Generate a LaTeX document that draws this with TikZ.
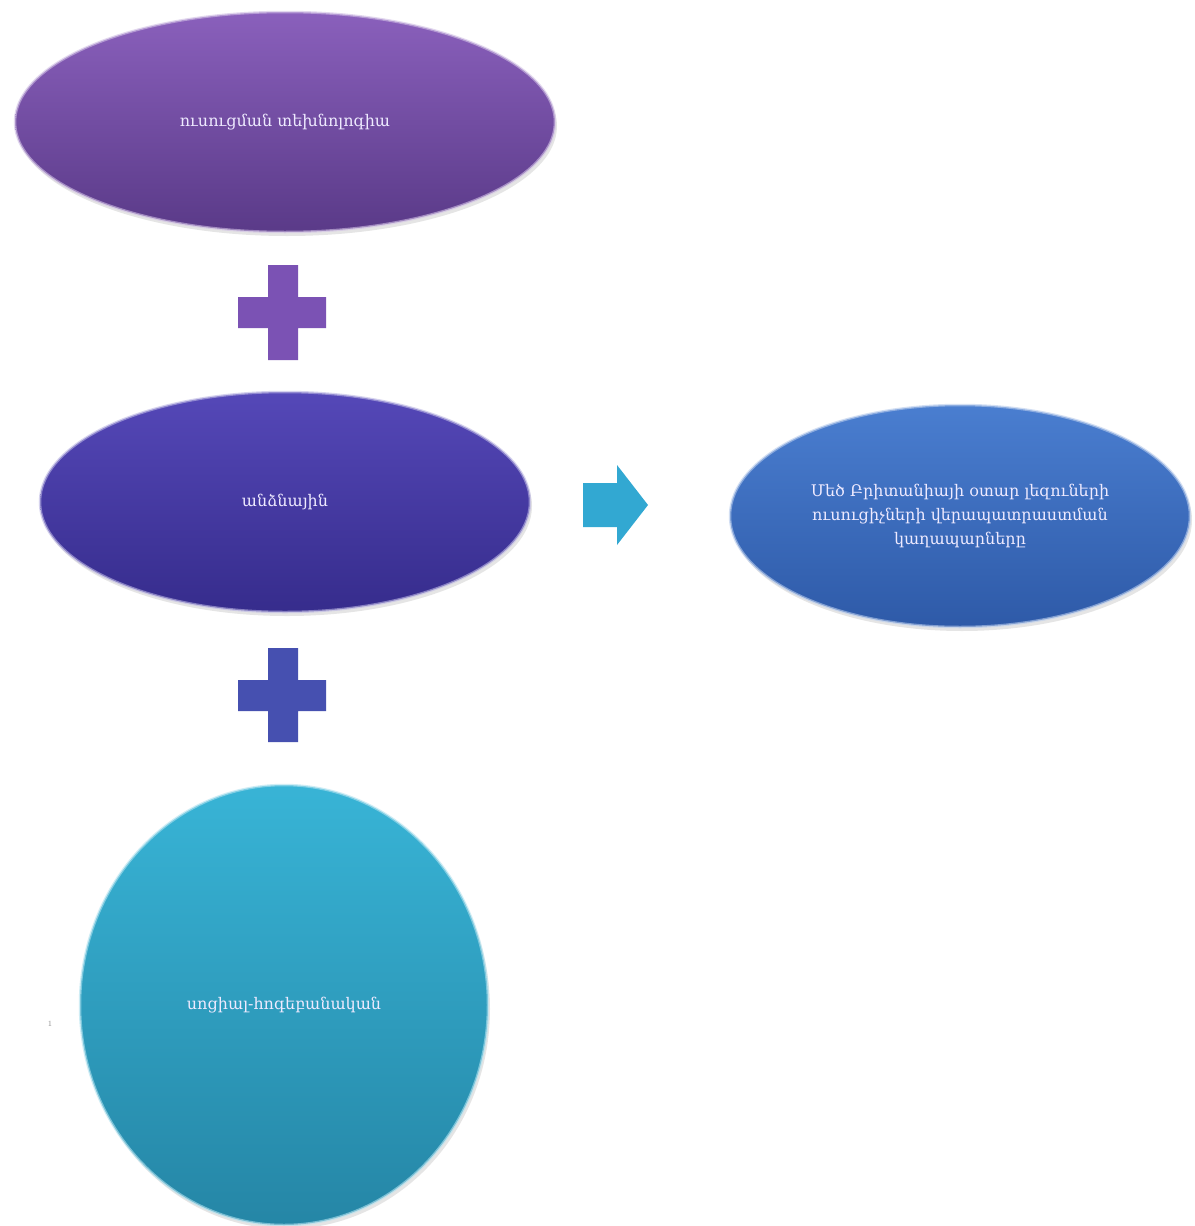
\documentclass[tikz,border=0pt]{standalone}
\usepackage{fontspec}
\newfontfamily\armfont{DejaVu Serif}
\usetikzlibrary{shapes.geometric,shadows}
\definecolor{purpT}{HTML}{8A60BC}
\definecolor{purpB}{HTML}{5A3A88}
\definecolor{violT}{HTML}{5548B8}
\definecolor{violB}{HTML}{362C8C}
\definecolor{cyanT}{HTML}{38B4D6}
\definecolor{cyanB}{HTML}{2586A6}
\definecolor{blueT}{HTML}{4A7ED0}
\definecolor{blueB}{HTML}{2E5AA8}
\definecolor{txt}{HTML}{EEEAFF}
\definecolor{plusP}{HTML}{7B52B4}
\definecolor{plusB}{HTML}{4650B0}
\definecolor{arrC}{HTML}{32A8D2}
\tikzset{
  blob/.style={ellipse, inner sep=0pt, text=txt, align=center,
    font=\armfont\fontsize{16}{24}\selectfont,
    drop shadow={shadow xshift=2pt, shadow yshift=-4pt, opacity=0.2}},
  rim/.style={line width=2.5pt, draw opacity=0.6}
}
\begin{document}
\begin{tikzpicture}[x=1pt,y=1pt]
\useasboundingbox (0,0) rectangle (1194,-1226);
\fill[white] (0,0) rectangle (1194,-1226);

% top purple ellipse
\node[blob, minimum width=540, minimum height=220, top color=purpT, bottom color=purpB,
  draw=purpT!40!white, rim] (tech) at (285,-122) {ուսուցման տեխնոլոգիա};

% purple plus
\fill[plusP] (268,-265) -- (298,-265) -- (298,-297) -- (326,-297) -- (326,-328)
  -- (298,-328) -- (298,-360) -- (268,-360) -- (268,-328) -- (238,-328)
  -- (238,-297) -- (268,-297) -- cycle;

% violet ellipse
\node[blob, minimum width=490, minimum height=220, top color=violT, bottom color=violB,
  draw=violT!40!white, rim] (pers) at (285,-502) {անձնային};

% blue plus
\fill[plusB] (268,-648) -- (298,-648) -- (298,-680) -- (326,-680) -- (326,-711)
  -- (298,-711) -- (298,-742) -- (268,-742) -- (268,-711) -- (238,-711)
  -- (238,-680) -- (268,-680) -- cycle;

% cyan circle
\node[blob, minimum width=408, minimum height=440, top color=cyanT, bottom color=cyanB,
  draw=cyanT!40!white, rim] (soc) at (284,-1005) {սոցիալ-հոգեբանական};

% small mark
\node[text=black!45, font=\fontsize{8}{9}\selectfont] (mark) at (50,-1024) {1};

% arrow
\fill[arrC] (583,-483) -- (617,-483) -- (617,-465) -- (648,-505)
  -- (617,-545) -- (617,-527) -- (583,-527) -- cycle;

% right ellipse
\node[blob, minimum width=460, minimum height=222, top color=blueT, bottom color=blueB,
  draw=blueT!40!white, rim] (model) at (960,-516)
  {Մեծ Բրիտանիայի օտար լեզուների\\ուսուցիչների վերապատրաստման\\կաղապարները};
\end{tikzpicture}
\end{document}
